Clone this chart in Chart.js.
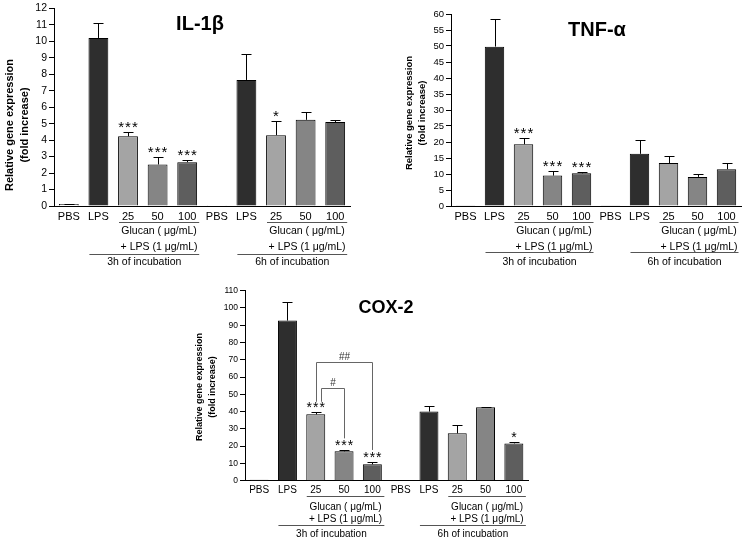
<!DOCTYPE html>
<html>
<head>
<meta charset="utf-8">
<script src="https://cdn.jsdelivr.net/npm/chart.js@4.4.1/dist/chart.umd.min.js"></script>
<style>
  body { margin: 0; background: #fff; }
  #fig { position: relative; width: 745px; height: 541px; overflow: hidden; }
  #fig canvas { position: absolute; }
</style>
</head>
<body>
<div id="fig">
  <canvas id="il1b" width="372" height="270" style="left:0;top:0"></canvas>
  <canvas id="tnf" width="373" height="270" style="left:372px;top:0"></canvas>
  <canvas id="cox" width="372" height="271" style="left:190px;top:270px"></canvas>
</div>
<script>
// Data
const categories = ['PBS', 'LPS', '25', '50', '100', 'PBS', 'LPS', '25', '50', '100'];

const il1bMeans = [0.12, 10.2, 4.23, 2.52, 2.66, 0.05, 7.65, 4.3, 5.23, 5.1];
const il1bSem = [0.03, 0.9, 0.26, 0.46, 0.12, 0, 1.6, 0.87, 0.45, 0.1];
const il1bStars = ['', '', '***', '***', '***', '', '', '*', '', ''];
const il1bTicks = [0, 1, 2, 3, 4, 5, 6, 7, 8, 9, 10, 11, 12];

const tnfMeans = [0.2, 49.8, 19.3, 9.5, 10.2, 0.1, 16.3, 13.4, 9.1, 11.5];
const tnfSem = [0, 8.5, 1.9, 1.4, 0.4, 0, 4.2, 2.3, 1.0, 1.9];
const tnfStars = ['', '', '***', '***', '***', '', '', '', '', ''];
const tnfTicks = [0, 5, 10, 15, 20, 25, 30, 35, 40, 45, 50, 55, 60];

const coxMeans = [0.5, 92.7, 38.4, 17, 9.5, 0.2, 40, 27.4, 42.5, 21.6];
const coxSem = [0, 11, 1.2, 0.6, 1.3, 0, 3.4, 4.6, 0.4, 1.0];
const coxStars = ['', '', '***', '***', '***', '', '', '', '', '*'];
const coxTicks = [0, 10, 20, 30, 40, 50, 60, 70, 80, 90, 100, 110];
// brackets between bars: from/to bar index, top and leg ends in y units
const coxBrackets = [
    { from: 2, to: 4, top: 68.6, fromEnd: 45.7, toEnd: 17.8, label: '##' },
    { from: 2, to: 3, top: 53.9, fromEnd: 45.7, toEnd: 24.5, label: '#' }
];

const glucanText = ['Glucan ( μg/mL)', '+ LPS (1 μg/mL)'];
const incubationText = ['3h of incubation', '6h of incubation'];
const yTitleText = ['Relative gene expression', '(fold increase)'];

const barColors = ['#ffffff', '#2e2e2e', '#a4a4a4', '#858585', '#5e5e5e',
                   '#ffffff', '#2e2e2e', '#a4a4a4', '#858585', '#5e5e5e'];
const FONT = 'Arial, "Liberation Sans", sans-serif';

// Error bars, stars, brackets, titles and group labels
const decor = {
    id: 'decor',
    afterDatasetsDraw(chart, args, o) {
        const ctx = chart.ctx, xs = chart.scales.x, ys = chart.scales.y;
        const means = chart.data.datasets[0].data;
        ctx.save();
        ctx.strokeStyle = '#000';
        ctx.lineWidth = 1;
        o.sem.forEach((s, i) => {
            if (!s) return;
            const cx = Math.round(xs.getPixelForValue(i)) + 0.5;
            const y0 = ys.getPixelForValue(means[i]);
            const y1 = Math.round(ys.getPixelForValue(means[i] + s)) + 0.5;
            ctx.beginPath();
            ctx.moveTo(cx, y0); ctx.lineTo(cx, y1);
            ctx.moveTo(cx - 5, y1); ctx.lineTo(cx + 5, y1);
            ctx.stroke();
        });
        ctx.restore();
    },
    afterDraw(chart, args, o) {
        const ctx = chart.ctx, xs = chart.scales.x, ys = chart.scales.y, area = chart.chartArea;
        const means = chart.data.datasets[0].data;
        ctx.save();
        ctx.fillStyle = '#000';
        ctx.textAlign = 'center';

        // stars
        ctx.font = o.starFont;
        ctx.textBaseline = 'alphabetic';
        ctx.letterSpacing = '1px';
        o.stars.forEach((st, i) => {
            if (!st) return;
            const top = ys.getPixelForValue(means[i] + o.sem[i]);
            ctx.fillText(st, xs.getPixelForValue(i) + 0.5, top + o.starShift);
        });
        ctx.letterSpacing = '0px';

        // brackets
        (o.brackets || []).forEach((b, k) => {
            const xa = Math.round(xs.getPixelForValue(b.from)) + 0.5 + o.bracketShift[k];
            const xb = Math.round(xs.getPixelForValue(b.to)) + 0.5;
            const yt = Math.round(ys.getPixelForValue(b.top)) + 0.5;
            ctx.strokeStyle = '#666';
            ctx.lineWidth = 1;
            ctx.beginPath();
            ctx.moveTo(xa, ys.getPixelForValue(b.fromEnd));
            ctx.lineTo(xa, yt); ctx.lineTo(xb, yt);
            ctx.lineTo(xb, ys.getPixelForValue(b.toEnd));
            ctx.stroke();
            ctx.font = o.hashFont;
            ctx.fillStyle = '#333';
            ctx.fillText(b.label, (xa + xb) / 2, yt - 3);
            ctx.fillStyle = '#000';
        });

        // group labels under the axis
        const r = o.rows;
        [0, 5].forEach((s, g) => {
            const a1 = xs.getPixelForValue(s + 2) - 9, b1 = xs.getPixelForValue(s + 4) + 12;
            const a2 = xs.getPixelForValue(s + 1) - 9;
            ctx.strokeStyle = '#555';
            ctx.lineWidth = 1;
            ctx.beginPath();
            ctx.moveTo(a1, Math.round(area.bottom + r[0]) + 0.5);
            ctx.lineTo(b1, Math.round(area.bottom + r[0]) + 0.5);
            ctx.moveTo(a2, Math.round(area.bottom + r[3]) + 0.5);
            ctx.lineTo(b1, Math.round(area.bottom + r[3]) + 0.5);
            ctx.stroke();
            ctx.font = o.groupFont;
            ctx.textBaseline = 'middle';
            ctx.fillText(glucanText[0], (a1 + b1) / 2, area.bottom + r[1]);
            ctx.fillText(glucanText[1], (a1 + b1) / 2, area.bottom + r[2]);
            ctx.fillText(incubationText[g], (a2 + b1) / 2, area.bottom + r[4]);
        });

        // panel title
        ctx.font = o.titleFont;
        ctx.textBaseline = 'alphabetic';
        ctx.fillText(o.title, o.titleX, o.titleY);

        // y axis title
        ctx.font = o.yTitleFont;
        ctx.textBaseline = 'middle';
        yTitleText.forEach((t, i) => {
            ctx.save();
            ctx.translate(o.yTitleX[i], o.yTitleY);
            ctx.rotate(-Math.PI / 2);
            ctx.fillText(t, 0, 0);
            ctx.restore();
        });
        ctx.restore();
    }
};

function makePanel(id, means, sem, stars, ticks, p) {
    const canvas = document.getElementById(id);
    return new Chart(canvas, {
        type: 'bar',
        data: {
            labels: categories,
            datasets: [{
                data: means,
                backgroundColor: barColors,
                borderColor: '#000',
                borderWidth: 1,
                barPercentage: 0.67,
                categoryPercentage: 1
            }]
        },
        options: {
            responsive: false,
            animation: false,
            devicePixelRatio: 1,
            layout: { padding: { top: p.area[2], right: canvas.width - p.area[1], left: 0, bottom: 0 } },
            plugins: {
                legend: { display: false },
                tooltip: { enabled: false },
                decor: Object.assign({ sem, stars }, p.decor)
            },
            scales: {
                x: {
                    grid: { display: false, drawTicks: false },
                    border: { color: '#000', width: 1 },
                    ticks: { color: '#000', font: { family: FONT, size: p.catSize }, padding: p.catPad, maxRotation: 0, autoSkip: false },
                    afterFit: s => { s.height = canvas.height - p.area[3]; }
                },
                y: {
                    min: ticks[0],
                    max: ticks[ticks.length - 1],
                    afterBuildTicks: s => { s.ticks = ticks.map(v => ({ value: v })); },
                    grid: { drawOnChartArea: false, tickLength: 5, color: '#000' },
                    border: { color: '#000', width: 1 },
                    ticks: { color: '#000', font: { family: FONT, size: p.tickSize }, padding: 2 },
                    afterFit: s => { s.width = p.area[0]; }
                }
            }
        },
        plugins: [decor]
    });
}

// area: [left, right, top, bottom] of the plot inside each canvas
makePanel('il1b', il1bMeans, il1bSem, il1bStars, il1bTicks, {
    area: [54, 350, 7, 206], catSize: 11, catPad: 4, tickSize: 10.5,
    decor: {
        title: 'IL-1β', titleFont: 'bold 20px ' + FONT, titleX: 200, titleY: 30,
        yTitleFont: 'bold 11px ' + FONT, yTitleX: [10, 25], yTitleY: 125,
        starFont: '15px ' + FONT, starShift: 0,
        groupFont: '10.5px ' + FONT, rows: [16, 25, 41.5, 48, 56]
    }
});

makePanel('tnf', tnfMeans, tnfSem, tnfStars, tnfTicks, {
    area: [79, 369, 14, 206], catSize: 11, catPad: 4, tickSize: 9.5,
    decor: {
        title: 'TNF-α', titleFont: 'bold 20px ' + FONT, titleX: 225, titleY: 36,
        yTitleFont: 'bold 9.5px ' + FONT, yTitleX: [37, 50], yTitleY: 113,
        starFont: '15px ' + FONT, starShift: 0,
        groupFont: '10.5px ' + FONT, rows: [16, 25, 40.7, 46.3, 55.7]
    }
});

makePanel('cox', coxMeans, coxSem, coxStars, coxTicks, {
    area: [55, 338, 20.7, 210.7], catSize: 10, catPad: 4, tickSize: 8.5,
    decor: {
        title: 'COX-2', titleFont: 'bold 18px ' + FONT, titleX: 196, titleY: 43,
        yTitleFont: 'bold 9px ' + FONT, yTitleX: [10, 23], yTitleY: 117,
        starFont: '14px ' + FONT, starShift: 0,
        groupFont: '10px ' + FONT, rows: [15, 27, 38.5, 44.3, 53.7],
        brackets: coxBrackets, bracketShift: [0, 5], hashFont: '10px ' + FONT
    }
});
</script>
</body>
</html>
